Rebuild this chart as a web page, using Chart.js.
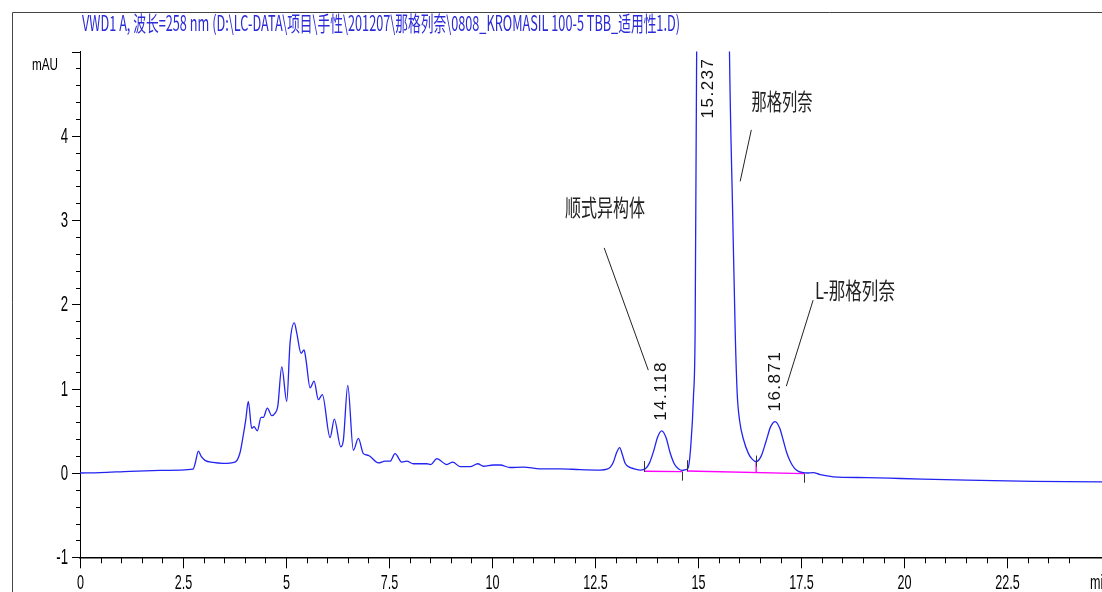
<!DOCTYPE html>
<html>
<head>
<meta charset="utf-8">
<script src="https://cdn.jsdelivr.net/npm/chart.js@4.4.1/dist/chart.umd.min.js"></script>
<style>
  html, body { margin: 0; padding: 0; background: #fff; overflow: hidden; }
  #wrap { position: relative; width: 1102px; height: 592px; }
</style>
</head>
<body>
<div id="wrap"><canvas id="chrom"></canvas></div>
<script>
// header of the run
const titleText = 'VWD1 A, 波长=258 nm (D:\\LC-DATA\\项目\\手性\\201207\\那格列奈\\0808_KROMASIL 100-5 TBB_适用性1.D)';
const yUnit = 'mAU';

// trace: retention time (min) / signal (mAU)
const times = [0, 0.485, 1.214, 1.942, 2.427, 2.743, 2.803, 2.871, 2.937, 3.034, 3.228, 3.471, 3.762, 3.883, 3.956,
  4.022, 4.085, 4.167, 4.223, 4.303, 4.393, 4.449, 4.546, 4.653, 4.733, 4.799, 4.896, 5.017, 5.097, 5.201, 5.260,
  5.364, 5.437, 5.485, 5.583, 5.680, 5.784, 5.881, 6.068, 6.172, 6.328, 6.391, 6.498, 6.633, 6.755, 6.876, 6.998,
  7.240, 7.403, 7.524, 7.646, 7.808, 7.930, 8.090, 8.415, 8.512, 8.658, 8.900, 9.046, 9.223, 9.466, 9.653, 9.789,
  10.032, 10.194, 10.437, 10.760, 11.165, 11.650, 12.136, 12.621, 12.791, 12.87, 12.944, 13.02, 13.095, 13.16,
  13.228, 13.33, 13.45, 13.60, 13.72, 13.82, 13.92, 14.02, 14.118, 14.22, 14.32, 14.42, 14.52, 14.62, 14.70,
  14.757, 14.818, 14.886, 14.927, 14.964, 15.0, 15.1, 15.237, 15.4, 15.6, 15.7, 15.760, 15.837, 15.898, 15.947,
  16.007, 16.099, 16.221, 16.311, 16.408, 16.529, 16.65, 16.76, 16.871, 16.98, 17.07, 17.15, 17.233, 17.33,
  17.434, 17.55, 17.638, 17.791, 17.961, 18.284, 19.095, 19.903, 21.522, 23.138, 24.757, 24.8];
const signal = [0.00, 0.005, 0.02, 0.03, 0.035, 0.045, 0.13, 0.26, 0.20, 0.15, 0.125, 0.115, 0.13, 0.24, 0.43,
  0.63, 0.85, 0.53, 0.55, 0.50, 0.66, 0.66, 0.77, 0.68, 0.71, 0.79, 1.26, 0.85, 1.54, 1.78, 1.66,
  1.42, 1.46, 1.34, 1.01, 1.09, 0.87, 0.93, 0.42, 0.64, 0.31, 0.39, 1.04, 0.27, 0.41, 0.23, 0.21,
  0.12, 0.14, 0.14, 0.23, 0.13, 0.14, 0.11, 0.11, 0.10, 0.17, 0.10, 0.13, 0.075, 0.075, 0.11, 0.08,
  0.095, 0.095, 0.065, 0.07, 0.05, 0.05, 0.04, 0.035, 0.045, 0.07, 0.13, 0.24, 0.30, 0.22,
  0.115, 0.07, 0.05, 0.035, 0.05, 0.12, 0.26, 0.43, 0.50, 0.42, 0.24, 0.11, 0.05, 0.03, 0.04,
  0.06, 0.3, 0.9, 1.7, 5.0, 12, 35, 60, 40, 15, 8, 5.0, 3.1, 1.7, 0.95,
  0.62, 0.40, 0.23, 0.165, 0.135, 0.2, 0.38, 0.55, 0.61, 0.53, 0.38, 0.24, 0.14, 0.06,
  0.02, 0.005, 0.0, 0.005, -0.02, -0.045, -0.055, -0.065, -0.085, -0.10, -0.105, -0.105];

// integrated peaks
const peakTimes = [14.118, 15.237, 16.871];
const peakTags = ['14.118', '15.237', '16.871'];

// integration baselines (min, mAU)
const base1T = [13.697, 14.619];
const base1V = [0.02, 0.016];
const base2T = [14.726, 17.58];
const base2V = [0.024, -0.008];
const dropT = [16.408, 16.408];
const dropV = [0.005, 0.135];

// integration event marks: time, level, direction (1 up, -1 down)
const eventT = [13.697, 14.619, 14.726, 16.408, 17.58];
const eventV = [0.035, 0.016, 0.045, 0.10, -0.008];
const eventDir = [1, -1, 1, 1, -1];

// compound names with leader lines (from -> to, in min / mAU)
const compNames = ['顺式异构体', '那格列奈', 'L-那格列奈'];
const leadFromT = [12.72, 16.29, 17.79];
const leadFromV = [2.67, 4.07, 2.05];
const leadToT = [13.79, 16.02, 17.14];
const leadToV = [1.22, 3.46, 1.03];

const pts = (t, v) => t.map((x, i) => ({ x: x, y: v[i] }));
const isMult = (v, s) => Math.abs(v / s - Math.round(v / s)) < 1e-6;

function narrow(ctx, str, x, y, opts) {
  ctx.save();
  ctx.font = opts.font;
  ctx.fillStyle = opts.color || '#000';
  ctx.textAlign = opts.align || 'left';
  ctx.textBaseline = opts.baseline || 'alphabetic';
  let sx = opts.sx || 1;
  if (opts.width) sx = opts.width / ctx.measureText(str).width;
  ctx.translate(x, y);
  ctx.scale(sx, 1);
  ctx.fillText(str, 0, 0);
  ctx.restore();
}

const decor = {
  id: 'decor',
  afterDraw(chart) {
    const { ctx, chartArea: a, scales: { x, y } } = chart;
    ctx.save();

    // outer frame
    ctx.strokeStyle = '#444';
    ctx.lineWidth = 1;
    ctx.beginPath();
    ctx.moveTo(12.5, 592); ctx.lineTo(12.5, 12.5); ctx.lineTo(1102, 12.5);
    ctx.stroke();

    // title
    narrow(ctx, titleText, 82, 23, { font: '21px "Noto Sans CJK SC"', color: '#2a2ad8', baseline: 'middle', width: 598 });

    // x ticks + labels
    ctx.strokeStyle = '#000';
    ctx.lineWidth = 1;
    x.ticks.forEach(t => {
      if (!isMult(t.value, 0.5)) return;
      const px = Math.round(x.getPixelForValue(t.value)) + 0.5;
      const major = isMult(t.value, 2.5);
      ctx.beginPath();
      ctx.moveTo(px, a.bottom);
      ctx.lineTo(px, a.bottom + (major ? 11 : 6));
      ctx.stroke();
      if (major) {
        const lab = String(Math.round(t.value * 10) / 10);
        narrow(ctx, lab, px, 589, { font: '21px "Liberation Sans"', align: 'center', sx: 0.6 });
      }
    });
    narrow(ctx, 'min', 1090, 589, { font: '21px "Liberation Sans"', sx: 0.6 });

    // y ticks + labels
    y.ticks.forEach(t => {
      const py = Math.round(y.getPixelForValue(t.value)) + 0.5;
      const major = isMult(t.value, 1);
      ctx.beginPath();
      ctx.moveTo(a.left, py);
      ctx.lineTo(a.left - (major ? 8 : 4), py);
      ctx.stroke();
      if (major && t.value < 5) {
        narrow(ctx, String(Math.round(t.value)), 68, py, { font: '22px "Liberation Sans"', align: 'right', baseline: 'middle', sx: 0.6 });
      }
    });
    narrow(ctx, yUnit, 32, 65, { font: '17px "Liberation Sans"', baseline: 'middle', width: 26 });

    // integration event marks
    ctx.strokeStyle = '#333';
    eventT.forEach((t, i) => {
      const px = Math.round(x.getPixelForValue(t)) + 0.5;
      const py = y.getPixelForValue(eventV[i]);
      ctx.beginPath();
      ctx.moveTo(px, py + (eventDir[i] > 0 ? 2 : 0));
      ctx.lineTo(px, py - eventDir[i] * 9);
      ctx.stroke();
    });

    // peak retention time labels
    peakTimes.forEach((t, i) => {
      let k = 0;
      times.forEach((tt, j) => { if (Math.abs(tt - t) < Math.abs(times[k] - t)) k = j; });
      const px = x.getPixelForValue(t);
      const apex = signal[k] > y.max ? a.top + 67 : y.getPixelForValue(signal[k]) - 10;
      ctx.save();
      ctx.translate(px, apex);
      ctx.rotate(-Math.PI / 2);
      ctx.font = '17px "Liberation Sans"';
      ctx.letterSpacing = '1.5px';
      ctx.fillStyle = '#111';
      ctx.textAlign = 'left';
      ctx.textBaseline = 'middle';
      ctx.fillText(peakTags[i], 0, 0);
      ctx.restore();
    });

    // compound names + leader lines
    const namePos = [[605, 207, 80], [782, 101, 61], [855, 290, 80]];
    ctx.strokeStyle = '#222';
    compNames.forEach((n, i) => {
      ctx.beginPath();
      ctx.moveTo(x.getPixelForValue(leadFromT[i]), y.getPixelForValue(leadFromV[i]));
      ctx.lineTo(x.getPixelForValue(leadToT[i]), y.getPixelForValue(leadToV[i]));
      ctx.stroke();
      const p = namePos[i];
      narrow(ctx, n, p[0], p[1], { font: '23px "Noto Sans CJK SC"', color: '#222', align: 'center', baseline: 'middle', width: p[2] });
    });

    ctx.restore();
  }
};

new Chart(document.getElementById('chrom'), {
  type: 'line',
  data: {
    datasets: [
      { data: pts(times, signal), borderColor: '#2323f2', borderWidth: 1.3, pointRadius: 0, cubicInterpolationMode: 'monotone', order: 0 },
      { data: pts(base1T, base1V), borderColor: '#ff00ff', borderWidth: 1.4, pointRadius: 0, order: 1 },
      { data: pts(base2T, base2V), borderColor: '#ff00ff', borderWidth: 1.4, pointRadius: 0, order: 1 },
      { data: pts(dropT, dropV), borderColor: '#ff00ff', borderWidth: 1.4, pointRadius: 0, order: 1 }
    ]
  },
  options: {
    responsive: true,
    maintainAspectRatio: false,
    animation: false,
    events: [],
    layout: { padding: { top: 51.5, left: 0, right: 0, bottom: 0 } },
    plugins: { legend: { display: false }, tooltip: { enabled: false }, title: { display: false } },
    scales: {
      x: {
        type: 'linear', min: 0, max: 24.8,
        ticks: { stepSize: 0.5, display: false },
        grid: { display: false },
        border: { display: true, color: '#000', width: 1.5 },
        afterFit: s => { s.height = 34.7; }
      },
      y: {
        min: -1, max: 5,
        ticks: { stepSize: 0.2, display: false },
        grid: { display: false },
        border: { display: true, color: '#000', width: 1 },
        afterFit: s => { s.height = s.height; s.width = 80; }
      }
    }
  },
  plugins: [decor]
});
</script>
</body>
</html>
